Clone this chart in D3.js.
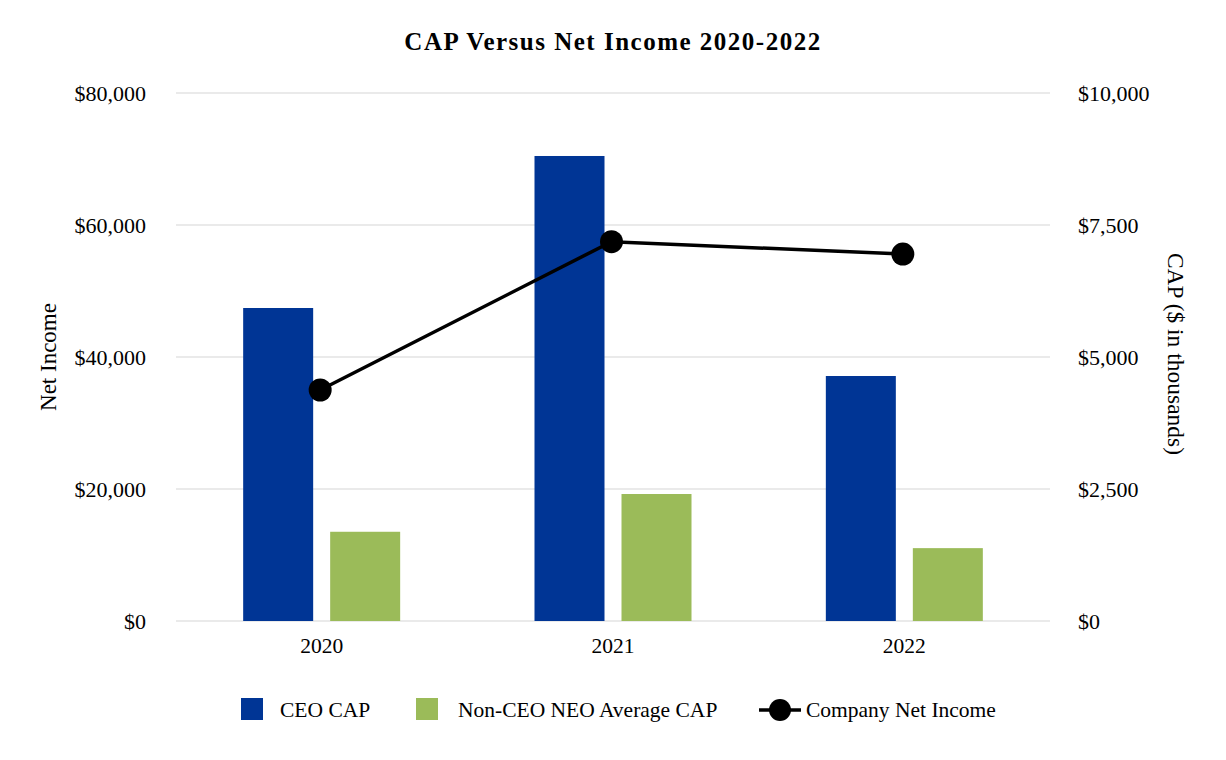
<!DOCTYPE html>
<html><head><meta charset="utf-8">
<script src="https://cdn.jsdelivr.net/npm/d3@7/dist/d3.min.js"></script>
<style>body{margin:0;background:#fff}svg{display:block}text{font-family:"Liberation Serif","Times New Roman",serif;fill:#000}</style>
</head><body><svg id="c" width="1226" height="760"></svg>
<script>
const years = ["2020","2021","2022"];
const ceoCAP = [5928, 8807, 4640];
const nonCeoCAP = [1690, 2405, 1380];
const netIncome = [35000, 57470, 55600];
const leftTicks = [0,20000,40000,60000,80000];
const rightTicks = [0,2500,5000,7500,10000];

const svg = d3.select("#c");
const L=176, R=1050, T=93, B=621;
const x = d3.scaleBand().domain(years).range([L,R]).paddingInner(0).paddingOuter(0);
const yL = d3.scaleLinear().domain([0,80000]).range([B,T]);
const yR = d3.scaleLinear().domain([0,10000]).range([B,T]);
const fmt = d3.format("$,");
const bw = 70, gap = 17;

// grid
svg.append("g").selectAll("line").data(leftTicks).join("line")
  .attr("x1",L).attr("x2",R).attr("y1",d=>yL(d)).attr("y2",d=>yL(d))
  .attr("stroke","#e3e3e3").attr("stroke-width",1.5);

// left axis
const gl = svg.append("g").attr("transform",`translate(${L-30},0)`)
  .call(d3.axisLeft(yL).tickValues(leftTicks).tickFormat(fmt).tickSize(0).tickPadding(0));
gl.select(".domain").remove();
gl.selectAll("text").style("font-size","22px").attr("font-family","Liberation Serif");
// right axis
const gr = svg.append("g").attr("transform",`translate(${R+28},0)`)
  .call(d3.axisRight(yR).tickValues(rightTicks).tickFormat(fmt).tickSize(0).tickPadding(0));
gr.select(".domain").remove();
gr.selectAll("text").style("font-size","22px").attr("font-family","Liberation Serif");
// x axis
const gx = svg.append("g").attr("transform",`translate(0,${B+17})`)
  .call(d3.axisBottom(x).tickSize(0).tickPadding(0));
gx.select(".domain").remove();
gx.selectAll("text").style("font-size","21.5px").attr("font-family","Liberation Serif").attr("dy","0.71em");

// bars
const cx = d=>x(d)+x.bandwidth()/2;
svg.append("g").selectAll("rect").data(years).join("rect")
  .attr("x",(d)=>cx(d)-gap/2-bw).attr("width",bw)
  .attr("y",(d,i)=>yR(ceoCAP[i])).attr("height",(d,i)=>B-yR(ceoCAP[i]))
  .attr("fill","#003595");
svg.append("g").selectAll("rect").data(years).join("rect")
  .attr("x",(d)=>cx(d)+gap/2).attr("width",bw)
  .attr("y",(d,i)=>yR(nonCeoCAP[i])).attr("height",(d,i)=>B-yR(nonCeoCAP[i]))
  .attr("fill","#9BBB59");

// line
const line = d3.line().x((d,i)=>cx(years[i])-1.5).y(d=>yL(d));
svg.append("path").datum(netIncome).attr("d",line).attr("fill","none")
  .attr("stroke","#000").attr("stroke-width",3.5);
svg.append("g").selectAll("circle").data(netIncome).join("circle")
  .attr("cx",(d,i)=>cx(years[i])-1.5).attr("cy",d=>yL(d)).attr("r",11.5).attr("fill","#000");

// title
svg.append("text").attr("x",613).attr("y",50).attr("text-anchor","middle")
  .style("font-size","25px").style("font-weight","bold").style("letter-spacing","1.5px")
  .text("CAP Versus Net Income 2020-2022");

// axis titles
svg.append("text").attr("transform",`translate(56,357) rotate(-90)`).attr("text-anchor","middle")
  .style("font-size","23px").text("Net Income");
svg.append("text").attr("transform",`translate(1168,354) rotate(90)`).attr("text-anchor","middle")
  .style("font-size","23.5px").text("CAP ($ in thousands)");

// legend
const lg = svg.append("g");
lg.append("rect").attr("x",241).attr("y",698).attr("width",22).attr("height",22).attr("fill","#003595");
lg.append("text").attr("x",280).attr("y",717).style("font-size","21.5px").text("CEO CAP");
lg.append("rect").attr("x",416).attr("y",698).attr("width",22).attr("height",22).attr("fill","#9BBB59");
lg.append("text").attr("x",458).attr("y",717).style("font-size","21.5px").text("Non-CEO NEO Average CAP");
lg.append("line").attr("x1",759).attr("x2",801).attr("y1",710).attr("y2",710).attr("stroke","#000").attr("stroke-width",3.5);
lg.append("circle").attr("cx",780).attr("cy",710).attr("r",11).attr("fill","#000");
lg.append("text").attr("x",806).attr("y",717).style("font-size","21.5px").text("Company Net Income");
</script></body></html>
